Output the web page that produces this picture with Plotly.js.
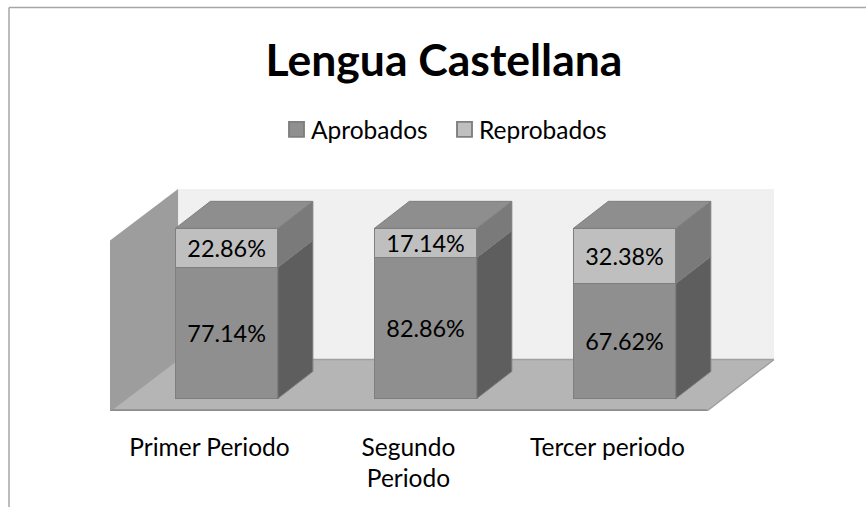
<!DOCTYPE html>
<html><head><meta charset="utf-8">
<script src="https://cdn.plot.ly/plotly-3.0.1.min.js"></script>
<style>html,body{margin:0;padding:0;background:#fff}</style>
</head><body><div id="chart" style="width:866px;height:507px"></div>
<script>
const categories = ["Primer Periodo", "Segundo<br>Periodo", "Tercer periodo"];
const aprobados = [77.14, 82.86, 67.62];
const reprobados = [22.86, 17.14, 32.38];
const positions = [0, 1, 2];

const W = 866, H = 507, L = 110, R = 774, T = 189, B = 411;
const xMin = -0.5, xMax = 2.837, yMin = -7.37, yMax = 123.16;
const barShift = 0.086, barWidth = 0.515, depthX = 0.176, depthY = 15.9;
const wallDX = 0.342, wallDY = 30.3;
const edge = '#7f7f7f';
const px = p => (p - L) / (R - L), py = p => (B - p) / (B - T);

function face(xs, ys, color) {
  return {type:'scatter', mode:'lines', x:[...xs, xs[0]], y:[...ys, ys[0]], fill:'toself',
    fillcolor:color, line:{color:edge, width:1}, showlegend:false, hoverinfo:'skip'};
}
const traces = [];
const shifted = positions.map(p => p + barShift);
const texttemplate = '%{y:.2f}%';
const barBase = {type:'bar', x:shifted, width:barWidth, texttemplate, textposition:'inside',
  insidetextanchor:'middle', textangle:0, constraintext:'none', hoverinfo:'name+y',
  textfont:{color:'#000', size:23.4}, insidetextfont:{color:'#000', size:23.4}};
traces.push({...barBase, name:'Aprobados', y:aprobados, marker:{color:'#8f8f8f', line:{color:edge, width:1.5}}});
traces.push({...barBase, name:'Reprobados', y:reprobados, marker:{color:'#bfbfbf', line:{color:edge, width:1.5}}});
positions.forEach((p, i) => {
  const l = shifted[i] - barWidth/2, r = shifted[i] + barWidth/2;
  const a = aprobados[i], t = aprobados[i] + reprobados[i];
  traces.push(face([r, r+depthX, r+depthX, r], [0, depthY, a+depthY, a], '#5e5e5e'));
  traces.push(face([r, r+depthX, r+depthX, r], [a, a+depthY, t+depthY, t], '#7a7a7a'));
  traces.push(face([l, l+depthX, r+depthX, r], [t, t+depthY, t+depthY, t], '#8e8e8e'));
});

const floorY = yMin;
const shapes = [
  {type:'path', layer:'below', xref:'x', yref:'y', line:{width:0}, fillcolor:'#f0f0f0',
   path:`M${xMin+wallDX},${floorY+wallDY}L${xMax},${floorY+wallDY}L${xMax},${yMax}L${xMin+wallDX},${yMax}Z`},
  {type:'path', layer:'below', xref:'x', yref:'y', line:{color:'#a0a0a0', width:1.5}, fillcolor:'#b5b5b5',
   path:`M${xMin},${floorY}L2.5,${floorY}L${xMax},${floorY+wallDY}L${xMin+wallDX},${floorY+wallDY}Z`},
  {type:'line', layer:'below', xref:'x', yref:'y', line:{color:'#8c8c8c', width:2},
   x0:xMin, x1:2.5, y0:floorY+0.4, y1:floorY+0.4},
  {type:'path', layer:'below', xref:'x', yref:'y', line:{width:0}, fillcolor:'#9d9d9d',
   path:`M${xMin},${floorY}L${xMin+wallDX},${floorY+wallDY}L${xMin+wallDX},${yMax}L${xMin},${yMax-wallDY}Z`},
  {type:'line', xref:'paper', yref:'paper', line:{color:'#a6a6a6', width:1.5}, x0:px(9), x1:px(866), y0:py(7.5), y1:py(7.5)},
  {type:'line', xref:'paper', yref:'paper', line:{color:'#a6a6a6', width:1.5}, x0:px(9), x1:px(9), y0:py(7.5), y1:py(507)}
];

const font = 'Lato, Carlito, Calibri, sans-serif';
const layout = {
  width:W, height:H, margin:{l:L, r:W-R, t:T, b:H-B},
  paper_bgcolor:'#fff', plot_bgcolor:'rgba(0,0,0,0)',
  barmode:'stack', bargap:0, showlegend:true,
  font:{family:font, color:'#000', size:24},
  title:{text:'Lengua Castellana', x:444/W, xanchor:'center', y:1-60/H, yanchor:'middle',
         font:{family:font, size:44.5, weight:700, color:'#000'}},
  legend:{orientation:'h', xref:'container', yref:'container', x:271/W, xanchor:'left', y:1-107/H, yanchor:'top',
          traceorder:'normal', font:{size:24.5}, bgcolor:'rgba(0,0,0,0)', entrywidth:123, entrywidthmode:'pixels'},
  xaxis:{range:[xMin, xMax], tickmode:'array', tickvals:positions, ticktext:categories, showgrid:false, zeroline:false,
         showline:false, ticks:'', ticklabelstandoff:19, tickfont:{size:24.5, color:'#000'}, fixedrange:true},
  yaxis:{range:[yMin, yMax], visible:false, showgrid:false, zeroline:false, fixedrange:true},
  shapes
};
Plotly.newPlot('chart', traces, layout, {displayModeBar:false, staticPlot:true}).then(() => {
  document.querySelectorAll('.legend .legendpoints path').forEach(p => {
    p.setAttribute('transform', (p.getAttribute('transform') || '') + ' translate(5.5,0) scale(1.25)');
  });
});
</script></body></html>
